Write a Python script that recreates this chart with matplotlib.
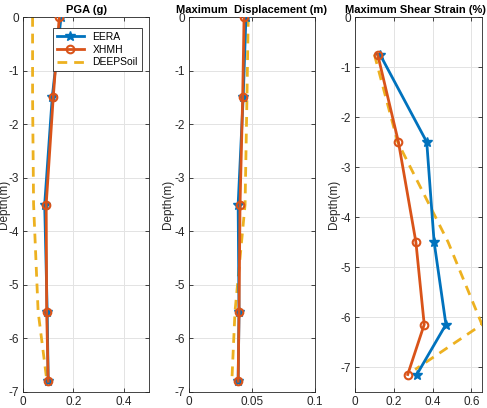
import matplotlib
matplotlib.use("Agg")
import matplotlib.pyplot as plt

plt.rcParams['font.family'] = ['Liberation Sans', 'DejaVu Sans']

# PGA (g)
pga_depth = [0, -1.5, -3.5, -5.5, -6.8]
pga_eera = [0.151, 0.116, 0.086, 0.096, 0.100]
pga_xhmh = [0.144, 0.120, 0.092, 0.094, 0.100]
pga_deep_depth = [0, -1.5, -3.5, -5.5, -6.8]
pga_deep = [0.038, 0.038, 0.042, 0.060, 0.095]

# Maximum displacement (m)
disp_depth = [0, -1.5, -3.5, -5.5, -6.8]
disp_eera = [0.0452, 0.0430, 0.0390, 0.0397, 0.0390]
disp_xhmh = [0.0437, 0.0426, 0.0405, 0.0397, 0.0390]
disp_deep_depth = [0, -1.5, -3.5, -5.5, -6.8]
disp_deep = [0.0470, 0.0460, 0.0445, 0.0365, 0.0340]

# Maximum shear strain (%)
strain_depth = [-0.75, -2.5, -4.5, -6.15, -7.15]
strain_eera = [0.129, 0.370, 0.408, 0.469, 0.319]
strain_xhmh = [0.117, 0.224, 0.314, 0.357, 0.272]
strain_deep_depth = [-0.75, -2.5, -4.5, -6.15, -7.05]
strain_deep = [0.10, 0.22, 0.48, 0.655, 0.31]

titles = ['PGA (g)', 'Maximum  Displacement (m)', 'Maximum Shear Strain (%)']
title_x = [0.5, 0.5, 0.475]
xlims = [(0, 0.5), (0, 0.1), (0, 0.655)]
xticks = [[0, 0.2, 0.4], [0, 0.05, 0.1], [0, 0.2, 0.4, 0.6]]
xticklabels = [['0', '0.2', '0.4'], ['0', '0.05', '0.1'], ['0', '0.2', '0.4', '0.6']]
ylims = [(-7, 0), (-7, 0), (-7.5, 0)]
yticks = [list(range(-7, 1)), list(range(-7, 1)), list(range(-7, 1))]

blue = '#0072BD'
orange = '#D95319'
yellow = '#EDB120'

W, H = 487, 408
fig = plt.figure(figsize=(W / 100, H / 100), dpi=100)
boxes = [(23, 149), (189, 315), (355, 482)]
top, bot = 17, 392

data = [
    (pga_depth, pga_eera, pga_xhmh, pga_deep_depth, pga_deep),
    (disp_depth, disp_eera, disp_xhmh, disp_deep_depth, disp_deep),
    (strain_depth, strain_eera, strain_xhmh, strain_deep_depth, strain_deep),
]

for i, (x0, x1) in enumerate(boxes):
    ax = fig.add_axes([x0 / W, (H - bot) / H, (x1 - x0) / W, (bot - top) / H])
    d, e, x, dd, ds = data[i]
    ax.plot(e, d, '-*', color=blue, lw=2, ms=7, label='EERA', zorder=3)
    ax.plot(x, d, '-o', color=orange, lw=2, ms=5.5, mfc='none', mew=1.5,
            label='XHMH', zorder=4)
    ax.plot(ds, dd, '--', color=yellow, lw=2, dashes=(3.5, 2.5),
            label='DEEPSoil', zorder=2)
    ax.set_xlim(*xlims[i])
    ax.set_ylim(*ylims[i])
    ax.set_xticks(xticks[i])
    ax.set_xticklabels(xticklabels[i])
    ax.set_yticks(yticks[i])
    ax.set_yticklabels([str(t) for t in yticks[i]])
    ax.grid(True, color='#e3e3e3', lw=0.7)
    ax.set_axisbelow(True)
    ax.tick_params(direction='in', top=True, right=True, labelsize=8.5,
                   colors='#262626', length=3, width=0.6, pad=3)
    for s in ax.spines.values():
        s.set_color('#262626')
        s.set_linewidth(0.6)
    t = ax.set_title(titles[i], fontsize=8.0, fontweight='bold', pad=3)
    t.set_x(title_x[i])
    ax.set_ylabel('Depth(m)', fontsize=8.5, color='#262626', labelpad=0)
    if i == 0:
        ax.yaxis.set_label_coords(-0.1, 0.5)
        leg = ax.legend(loc='upper right', fontsize=7.5, frameon=True,
                        fancybox=False, edgecolor='#262626', framealpha=1,
                        handlelength=2.6, borderpad=0.4, labelspacing=0.25,
                        bbox_to_anchor=(0.985, 0.985))
        leg.get_frame().set_linewidth(0.6)

fig.savefig('out.png', dpi=100)
